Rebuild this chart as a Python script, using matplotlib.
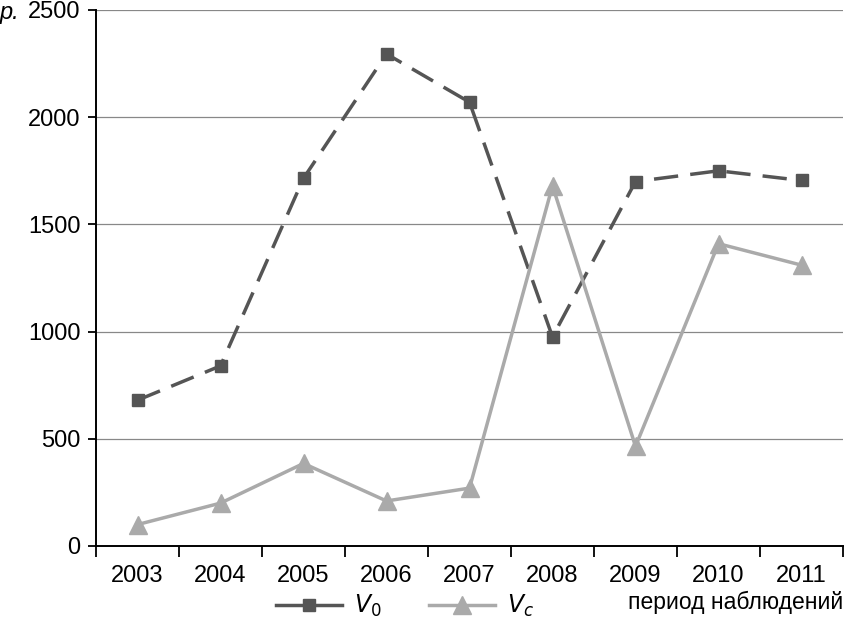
import matplotlib
matplotlib.use("Agg")
import matplotlib.pyplot as plt
from matplotlib.lines import Line2D

plt.rcParams['font.family'] = ['Liberation Sans', 'DejaVu Sans']

years = ["2003", "2004", "2005", "2006", "2007", "2008", "2009", "2010", "2011"]
v0 = [680, 840, 1715, 2295, 2070, 975, 1700, 1750, 1705]
vc = [100, 200, 385, 210, 270, 1680, 465, 1410, 1310]

fig = plt.figure(figsize=(8.46, 6.26), dpi=100)
ax = fig.add_axes([96/846, 80/626, 747/846, 536/626])

x = list(range(len(years)))
ax.plot(x, v0, color='#555555', lw=2.5, dashes=(7, 3.5), marker='s', ms=9,
        markerfacecolor='#555555', markeredgecolor='#555555')
ax.plot(x, vc, color='#aaaaaa', lw=2.5, marker='^', ms=13,
        markerfacecolor='#aaaaaa', markeredgecolor='#aaaaaa')

ax.set_xlim(-0.5, len(years) - 0.5)
ax.set_ylim(0, 2500)
ax.set_yticks([0, 500, 1000, 1500, 2000, 2500])
ax.yaxis.grid(True, color='#888888', lw=0.9)
ax.set_axisbelow(True)
ax.set_xticks(x)
ax.set_xticklabels(years, fontsize=17)
ax.tick_params(axis='x', which='major', length=0, pad=14)
ax.set_xticks([i - 0.5 for i in range(len(years) + 1)], minor=True)
ax.tick_params(axis='x', which='minor', length=8, width=1.3, direction='out')
ax.tick_params(axis='y', labelsize=17, length=6, width=1.3, direction='out', pad=5)
for s in ['top', 'right']:
    ax.spines[s].set_visible(False)
for s in ['left', 'bottom']:
    ax.spines[s].set_linewidth(1.4)
    ax.spines[s].set_color('black')

fig.text(0/846, 1 - 12/626, 'р.', fontsize=17, style='italic', ha='left', va='center')
fig.text(843/846, 1 - 602/626, 'период наблюдений', fontsize=16.5, ha='right', va='center')

h0 = Line2D([], [], color='#555555', lw=2.5, marker='s', ms=9)
h1 = Line2D([], [], color='#aaaaaa', lw=2.5, marker='^', ms=13)
fig.legend([h0, h1], ['$V_0$', '$V_c$'], loc='center', bbox_to_anchor=(405/846, 1 - 606/626),
           ncol=2, frameon=False, fontsize=17, handlelength=2.8, handletextpad=0.5,
           columnspacing=2.0)

fig.savefig('out.png', dpi=100)
